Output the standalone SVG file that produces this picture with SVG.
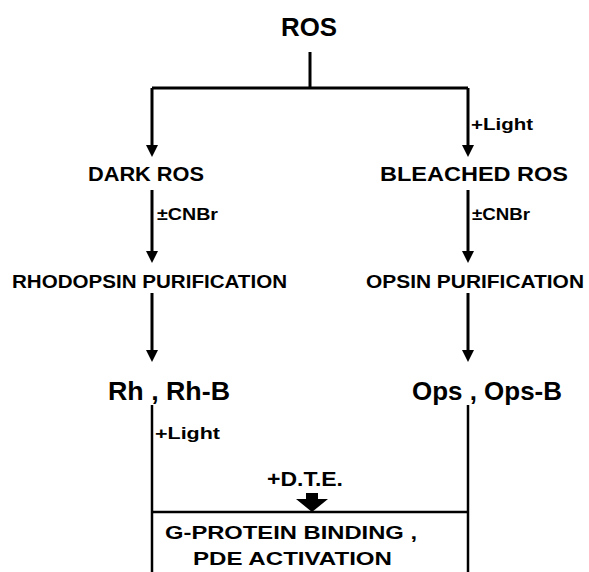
<svg xmlns="http://www.w3.org/2000/svg" width="589" height="572" viewBox="0 0 589 572">
<style>
text{font-family:"Liberation Sans",Arial,Helvetica,sans-serif;font-weight:bold;fill:#000}
.c{stroke:#000;stroke-width:3;fill:none}
.t{stroke:#000;stroke-width:2.5;fill:none}
</style>
<defs>
<marker id="ah" viewBox="0 0 12 12" refX="0" refY="6" markerWidth="12" markerHeight="12" markerUnits="userSpaceOnUse" orient="auto">
<path d="M0,0 L12,6 L0,12 z" fill="#000"/>
</marker>
</defs>
<rect width="589" height="572" fill="#fff"/>
<g id="connectors">
<path class="c" d="M310,52 V88"/>
<path class="c" d="M152,88 H468"/>
<path class="c" d="M152,88 V145" marker-end="url(#ah)"/>
<path class="c" d="M468,88 V145" marker-end="url(#ah)"/>
<path class="c" d="M152,190 V251" marker-end="url(#ah)"/>
<path class="c" d="M468,190 V251" marker-end="url(#ah)"/>
<path class="c" d="M152,293 V350" marker-end="url(#ah)"/>
<path class="c" d="M468,293 V350" marker-end="url(#ah)"/>
<path class="t" d="M152,405 V572"/>
<path class="t" d="M468,405 V572"/>
<path class="t" d="M152,512 H468"/>
<path d="M306,493 H318 V499 H328 L312,512 L296,499 H306 Z" fill="#000"/>
</g>
<g id="ros"><text x="309" y="36" font-size="26" text-anchor="middle" textLength="56" lengthAdjust="spacingAndGlyphs">ROS</text></g>
<g id="light1"><text x="471" y="130" font-size="17" textLength="62" lengthAdjust="spacingAndGlyphs">+Light</text></g>
<g id="dark-ros"><text x="88" y="181" font-size="20" textLength="116" lengthAdjust="spacingAndGlyphs">DARK  ROS</text></g>
<g id="bleached-ros"><text x="380" y="181" font-size="20" textLength="188" lengthAdjust="spacingAndGlyphs">BLEACHED  ROS</text></g>
<g id="cnbr1"><text x="157" y="220" font-size="17" textLength="61" lengthAdjust="spacingAndGlyphs">±CNBr</text></g>
<g id="cnbr2"><text x="472" y="220" font-size="17" textLength="58" lengthAdjust="spacingAndGlyphs">±CNBr</text></g>
<g id="rhodopsin-purification"><text x="12" y="288" font-size="18" textLength="275" lengthAdjust="spacingAndGlyphs">RHODOPSIN  PURIFICATION</text></g>
<g id="opsin-purification"><text x="366" y="288" font-size="18" textLength="218" lengthAdjust="spacingAndGlyphs">OPSIN  PURIFICATION</text></g>
<g id="rh"><text x="108" y="400" font-size="26" textLength="122" lengthAdjust="spacingAndGlyphs">Rh , Rh-B</text></g>
<g id="ops"><text x="412" y="400" font-size="26" textLength="150" lengthAdjust="spacingAndGlyphs">Ops , Ops-B</text></g>
<g id="light2"><text x="155" y="439" font-size="17" textLength="65" lengthAdjust="spacingAndGlyphs">+Light</text></g>
<g id="dte"><text x="267" y="486" font-size="21" textLength="76" lengthAdjust="spacingAndGlyphs">+D.T.E.</text></g>
<g id="g-protein">
<text x="165" y="539" font-size="19" textLength="252" lengthAdjust="spacingAndGlyphs">G-PROTEIN  BINDING ,</text>
<text x="193" y="565" font-size="19" textLength="199" lengthAdjust="spacingAndGlyphs">PDE  ACTIVATION</text>
</g>
</svg>
